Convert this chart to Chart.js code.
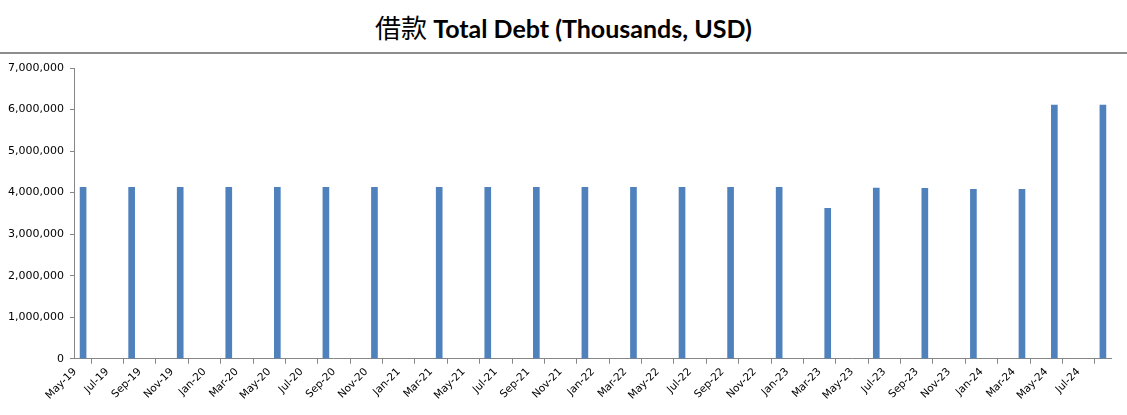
<!DOCTYPE html>
<html>
<head>
<meta charset="utf-8">
<script src="https://cdn.jsdelivr.net/npm/chart.js@4"></script>
<style>
  html,body{ margin:0; padding:0; background:#fff; }
  #titre{ width:1127px; height:44px; padding-top:8px; line-height:44px; text-align:center;
    font:bold 25px Lato, sans-serif; color:#000; border-bottom:2px solid #8c8c8c; white-space:nowrap; }
  #titre .cjk{ font-family:"Noto Sans CJK SC", sans-serif; font-weight:400; font-size:26px; }
  #wrap{ width:1127px; height:361px; position:relative; }
</style>
</head>
<body>
<div id="titre"></div>
<div id="wrap"><canvas id="graph-dette"></canvas></div>
<script>
/* ---- données (milliers USD) ---- */
const periodes = ['2019-05','2019-08','2019-11','2020-02','2020-05','2020-08','2020-11',
  '2021-03','2021-06','2021-09','2021-12','2022-03','2022-06','2022-09','2022-12',
  '2023-03','2023-06','2023-09','2023-12','2024-03','2024-05','2024-08'];
const dette = [4130000,4130000,4130000,4130000,4130000,4130000,4130000,
  4130000,4130000,4130000,4130000,4130000,4130000,4130000,4130000,
  3620000,4110000,4100000,4080000,4080000,6110000,6110000];
const etiquettesX = ['May-19','Jul-19','Sep-19','Nov-19','Jan-20','Mar-20','May-20','Jul-20',
  'Sep-20','Nov-20','Jan-21','Mar-21','May-21','Jul-21','Sep-21','Nov-21','Jan-22','Mar-22',
  'May-22','Jul-22','Sep-22','Nov-22','Jan-23','Mar-23','May-23','Jul-23','Sep-23','Nov-23',
  'Jan-24','Mar-24','May-24','Jul-24',''];
const titreCjk = '借款';
const titre = 'Total Debt (Thousands, USD)';

/* titre : partie chinoise en graisse normale, comme l'original */
const elT = document.getElementById('titre');
const sp = document.createElement('span'); sp.className = 'cjk'; sp.textContent = titreCjk;
elT.append(sp, ' ' + titre);

const DEBUT = { a:2019, m:5 };          /* origine de l'axe des dates */
const moisIdx = p => { const [a,m] = p.split('-').map(Number); return (a-DEBUT.a)*12 + (m-DEBUT.m); };

const gris = '#868686';
const police = '"DejaVu Sans", Tahoma, sans-serif';

new Chart(document.getElementById('graph-dette'), {
  type:'bar',
  data:{ datasets:[{
    label:'Total Debt',
    data: periodes.map((p,i) => ({ x: moisIdx(p) + 0.5, y: dette[i] })),
    backgroundColor:'#4f81bd', borderWidth:0, barThickness:6,
  }]},
  options:{
    responsive:true, maintainAspectRatio:false, animation:false,
    layout:{ padding:{ left:2, right:16, bottom:11, top:14 } },
    plugins:{ legend:{ display:false }, tooltip:{ enabled:false } },
    scales:{
      x:{ type:'linear', min:0, max:(etiquettesX.length-1)*2, offset:false,
        grid:{ drawOnChartArea:false, color:gris, tickLength:5 },
        border:{ color:gris, width:1 },
        ticks:{ stepSize:2, autoSkip:false, maxRotation:45, minRotation:45, color:'#000',
          font:{ family:police, size:10.5 }, padding:2,
          callback: v => etiquettesX[v/2] ?? '' } },
      y:{ min:0, max:7000000,
        grid:{ drawOnChartArea:false, color:gris, tickLength:5 },
        border:{ color:gris, width:1 },
        ticks:{ stepSize:1000000, color:'#000', padding:6,
          font:{ family:police, size:11 },
          callback: v => v.toLocaleString('en-US') } },
    },
  },
});
</script>
</body>
</html>
